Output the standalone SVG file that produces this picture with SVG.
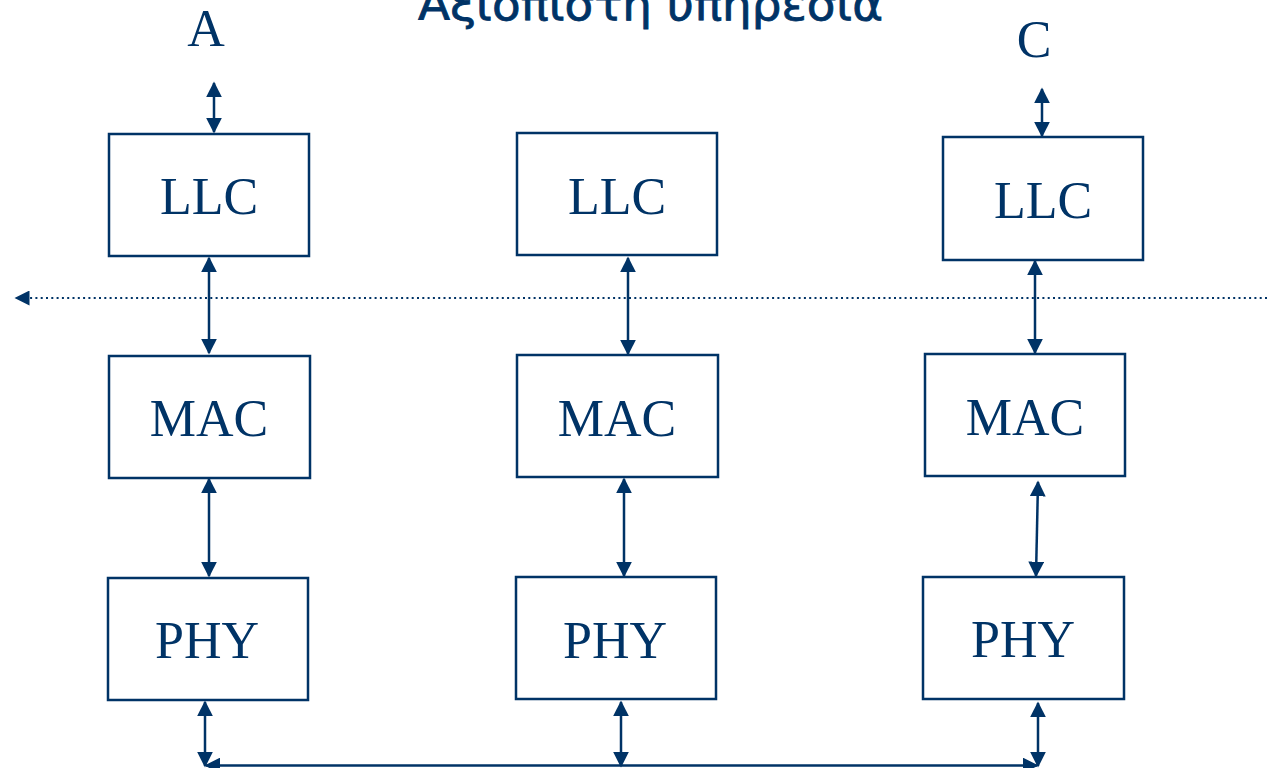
<svg xmlns="http://www.w3.org/2000/svg" width="1267" height="768" viewBox="0 0 1267 768">
<defs>
<marker id="ah" viewBox="0 0 10 10" refX="9" refY="5" markerWidth="6.4" markerHeight="6.4" markerUnits="strokeWidth" orient="auto-start-reverse">
<path d="M0,0 L10,5 L0,10 z" fill="#003366"/>
</marker>
<marker id="ahd" viewBox="0 0 10 10" refX="9" refY="5" markerWidth="8" markerHeight="7.5" markerUnits="strokeWidth" orient="auto-start-reverse">
<path d="M0,0 L10,5 L0,10 z" fill="#003366"/>
</marker>
<style>
.box{fill:#fff;stroke:#003366;stroke-width:2.5}
.lbl{font-family:"Liberation Serif","Times New Roman",serif;font-size:52px;fill:#003366;text-anchor:middle}
.con{stroke:#003366;stroke-width:2.5;fill:none;marker-start:url(#ah);marker-end:url(#ah)}
.title{font-family:"DejaVu Sans","Noto Sans",sans-serif;font-size:44px;fill:#003366;stroke:#003366;stroke-width:0.8}
</style>
</defs>
<rect width="1267" height="768" fill="#fff"/>
<text class="title" x="418" y="20" textLength="465" lengthAdjust="spacingAndGlyphs">Αξιόπιστη υπηρεσία</text>
<text class="lbl" x="206" y="46">A</text>
<text class="lbl" x="1034" y="57">C</text>
<g id="connectors">
<line class="con" x1="214" y1="83" x2="214" y2="132"/>
<line class="con" x1="1042" y1="89" x2="1042" y2="136"/>
<line class="con" x1="209" y1="258" x2="209" y2="353"/>
<line class="con" x1="209" y1="479" x2="209" y2="576"/>
<line class="con" x1="628" y1="258" x2="628" y2="354"/>
<line class="con" x1="624" y1="479" x2="624" y2="576"/>
<line class="con" x1="1035" y1="261" x2="1035" y2="353"/>
<line class="con" x1="1038" y1="482" x2="1036" y2="576"/>
<line class="con" x1="205" y1="702" x2="205" y2="766"/>
<line class="con" x1="621" y1="702" x2="621" y2="766"/>
<line class="con" x1="1038" y1="703" x2="1038" y2="766"/>
<line class="con" x1="206" y1="765.5" x2="1037" y2="765.5"/>
<line x1="1267" y1="298" x2="16" y2="298" stroke="#003366" stroke-width="2" stroke-dasharray="2 3.3" marker-end="url(#ahd)"/>
</g>
<g id="llc-a"><rect class="box" x="109" y="134" width="200" height="122"/><text class="lbl" x="209" y="214">LLC</text></g>
<g id="mac-a"><rect class="box" x="109" y="356" width="201" height="122"/><text class="lbl" x="209" y="436">MAC</text></g>
<g id="phy-a"><rect class="box" x="108" y="578" width="200" height="122"/><text class="lbl" x="207" y="658">PHY</text></g>
<g id="llc-b"><rect class="box" x="517" y="133" width="200" height="122"/><text class="lbl" x="617" y="214">LLC</text></g>
<g id="mac-b"><rect class="box" x="517" y="355" width="201" height="122"/><text class="lbl" x="617" y="436">MAC</text></g>
<g id="phy-b"><rect class="box" x="516" y="577" width="200" height="122"/><text class="lbl" x="615" y="658">PHY</text></g>
<g id="llc-c"><rect class="box" x="943" y="137" width="200" height="123"/><text class="lbl" x="1043" y="218">LLC</text></g>
<g id="mac-c"><rect class="box" x="925" y="354" width="200" height="122"/><text class="lbl" x="1025" y="435">MAC</text></g>
<g id="phy-c"><rect class="box" x="923" y="577" width="201" height="122"/><text class="lbl" x="1023" y="657">PHY</text></g>
</svg>
